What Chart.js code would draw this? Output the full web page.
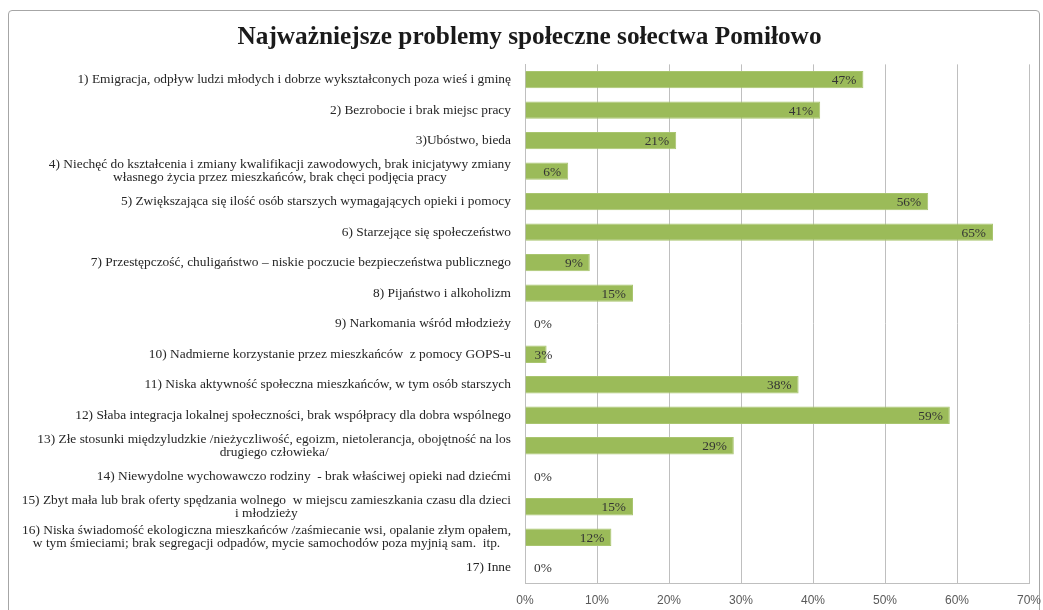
<!DOCTYPE html>
<html lang="pl">
<head>
<meta charset="utf-8">
<title>Najważniejsze problemy społeczne sołectwa Pomiłowo</title>
<script src="https://cdn.jsdelivr.net/npm/chart.js@4.4.1/dist/chart.umd.min.js"></script>
<style>
  html, body { margin: 0; padding: 0; background: #fff; overflow: hidden; }
  #wrap { position: relative; width: 1043px; height: 610px; }
  #frame {
    position: absolute; left: 8px; top: 10px; width: 1032px; height: 640px;
    border: 1px solid #a6a6a6; border-radius: 4px; box-sizing: border-box;
  }
  #chart { position: absolute; left: 0; top: 0; }
</style>
</head>
<body>
<div id="wrap">
  <div id="frame"></div>
  <canvas id="chart" width="1043" height="610"></canvas>
</div>
<script>
// Dane
var chartTitle = 'Najważniejsze problemy społeczne sołectwa Pomiłowo';

var categories = [
    '1) Emigracja, odpływ ludzi młodych i dobrze wykształconych poza wieś i gminę',
    '2) Bezrobocie i brak miejsc pracy',
    '3)Ubóstwo, bieda',
    ['4) Niechęć do kształcenia i zmiany kwalifikacji zawodowych, brak inicjatywy zmiany',
     'własnego życia przez mieszkańców, brak chęci podjęcia pracy'],
    '5) Zwiększająca się ilość osób starszych wymagających opieki i pomocy',
    '6) Starzejące się społeczeństwo',
    '7) Przestępczość, chuligaństwo – niskie poczucie bezpieczeństwa publicznego',
    '8) Pijaństwo i alkoholizm',
    '9) Narkomania wśród młodzieży',
    '10) Nadmierne korzystanie przez mieszkańców  z pomocy GOPS-u',
    '11) Niska aktywność społeczna mieszkańców, w tym osób starszych',
    '12) Słaba integracja lokalnej społeczności, brak współpracy dla dobra wspólnego',
    ['13) Złe stosunki międzyludzkie /nieżyczliwość, egoizm, nietolerancja, obojętność na los',
     'drugiego człowieka/'],
    '14) Niewydolne wychowawczo rodziny  - brak właściwej opieki nad dziećmi',
    ['15) Zbyt mała lub brak oferty spędzania wolnego  w miejscu zamieszkania czasu dla dzieci',
     'i młodzieży'],
    ['16) Niska świadomość ekologiczna mieszkańców /zaśmiecanie wsi, opalanie złym opałem,',
     'w tym śmieciami; brak segregacji odpadów, mycie samochodów poza myjnią sam.  itp.'],
    '17) Inne'
];

var values = [47, 41, 21, 6, 56, 65, 9, 15, 0, 3, 38, 59, 29, 0, 15, 12, 0];

var xTicks = [0, 10, 20, 30, 40, 50, 60, 70];

// Etykiety kategorii: blok wyrównany do prawej, linie wyśrodkowane
var categoryLabels = {
    id: 'categoryLabels',
    afterDraw: function (chart) {
        var ctx = chart.ctx;
        var yScale = chart.scales.y;
        var right = 511;
        var lineH = 13;
        ctx.save();
        ctx.font = '13.4px "Liberation Serif", serif';
        ctx.fillStyle = '#262626';
        ctx.textBaseline = 'middle';
        ctx.textAlign = 'center';
        categories.forEach(function (label, i) {
            var lines = Array.isArray(label) ? label : [label];
            var w = 0;
            lines.forEach(function (l) { w = Math.max(w, ctx.measureText(l).width); });
            var cx = right - w / 2;
            var y0 = yScale.getPixelForTick(i) - (lines.length - 1) * lineH / 2;
            lines.forEach(function (l, k) {
                ctx.fillText(l, cx, y0 + k * lineH);
            });
        });
        ctx.restore();
    }
};

// Etykiety wartości na końcu słupka
var valueLabels = {
    id: 'valueLabels',
    afterDatasetsDraw: function (chart) {
        var ctx = chart.ctx;
        var meta = chart.getDatasetMeta(0);
        ctx.save();
        ctx.font = '13.4px "Liberation Serif", serif';
        ctx.fillStyle = '#333333';
        ctx.textBaseline = 'middle';
        ctx.textAlign = 'right';
        meta.data.forEach(function (bar, i) {
            var txt = values[i] + '%';
            var w = ctx.measureText(txt).width;
            var x = Math.max(bar.x - 7, bar.base + 9 + w);
            ctx.fillText(txt, x, bar.y + 1);
        });
        ctx.restore();
    }
};

var ctx = document.getElementById('chart').getContext('2d');
var chart = new Chart(ctx, {
    type: 'bar',
    data: {
        labels: categories,
        datasets: [{
            label: chartTitle,
            data: values,
            backgroundColor: '#9bbb59',
            borderColor: '#a9c56f',
            borderWidth: 1,
            barPercentage: 0.57,
            categoryPercentage: 1
        }]
    },
    plugins: [categoryLabels, valueLabels],
    options: {
        indexAxis: 'y',
        responsive: false,
        animation: false,
        devicePixelRatio: 1,
        layout: {
            padding: { left: 30, right: 14, top: 0, bottom: 0 }
        },
        plugins: {
            legend: { display: false },
            tooltip: { enabled: false },
            title: {
                display: true,
                text: chartTitle,
                color: '#1a1a1a',
                font: { family: '"Liberation Serif", serif', size: 25.3, weight: 'bold' },
                padding: { top: 22, bottom: 12 }
            }
        },
        scales: {
            x: {
                min: xTicks[0],
                max: xTicks[xTicks.length - 1],
                ticks: {
                    stepSize: 10,
                    padding: 10,
                    color: '#595959',
                    font: { family: '"Liberation Sans", sans-serif', size: 12 },
                    callback: function (v) { return v + '%'; }
                },
                grid: { color: '#bfbfbf', drawTicks: false },
                border: { color: '#bfbfbf' },
                afterFit: function (scale) {
                    scale.height = 27;
                    scale.paddingLeft = 0;
                    scale.paddingRight = 0;
                }
            },
            y: {
                ticks: { display: false },
                grid: { display: false },
                border: { color: '#bfbfbf' },
                afterFit: function (scale) { scale.width = 495; }
            }
        }
    }
});
</script>
</body>
</html>
